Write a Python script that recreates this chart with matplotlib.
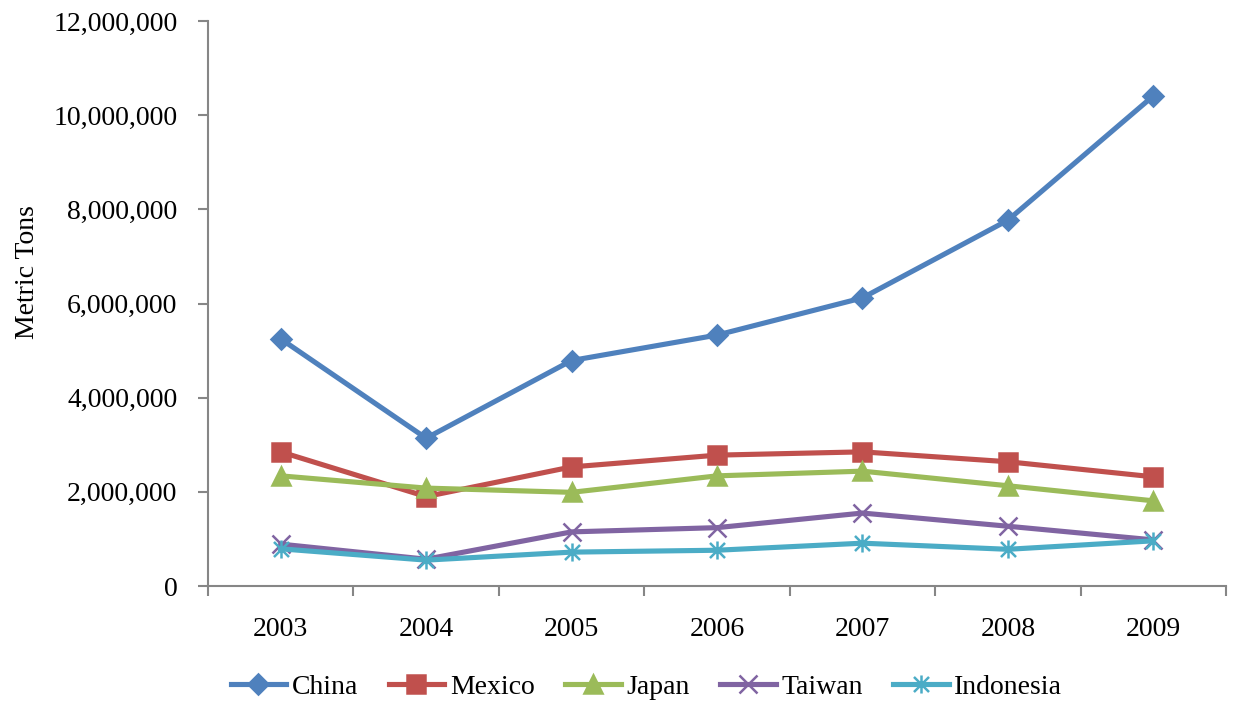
import numpy as np
import matplotlib.pyplot as plt
from matplotlib.path import Path
from matplotlib.ticker import FuncFormatter

years = ['2003', '2004', '2005', '2006', '2007', '2008', '2009']
china = [5250000, 3140000, 4790000, 5330000, 6120000, 7770000, 10410000]
mexico = [2850000, 1900000, 2530000, 2780000, 2850000, 2640000, 2320000]
japan = [2340000, 2080000, 1990000, 2340000, 2440000, 2130000, 1810000]
taiwan = [890000, 570000, 1150000, 1240000, 1550000, 1270000, 980000]
indonesia = [790000, 550000, 720000, 760000, 910000, 780000, 960000]

# asterisk like Excel's: an x with a vertical bar through it
star = Path([(-1, -1), (1, 1), (-1, 1), (1, -1), (0, -1.2), (0, 1.2)],
            [Path.MOVETO, Path.LINETO, Path.MOVETO, Path.LINETO, Path.MOVETO, Path.LINETO])

series = [
    ('China', china, '#4F81BD', 'D', 10),
    ('Mexico', mexico, '#C0504D', 's', 13),
    ('Japan', japan, '#9BBB59', '^', 13),
    ('Taiwan', taiwan, '#8064A2', 'x', 13),
    ('Indonesia', indonesia, '#4BACC6', star, 13),
]

plt.rcParams['font.family'] = ['Liberation Serif']

fig = plt.figure(figsize=(12.35, 7.03), dpi=100)
ax = fig.add_axes([0.1684, 0.1664, 0.8243, 0.8036])

x = np.arange(len(years))
for name, vals, color, marker, ms in series:
    ax.plot(x, vals, color=color, linewidth=3.7, marker=marker, markersize=ms,
            markeredgecolor=color, markerfacecolor=color, markeredgewidth=1.8,
            label=name, solid_joinstyle='round')

ax.set_xlim(-0.5, len(years) - 0.5)
ax.set_ylim(0, 12000000)
ax.set_yticks(np.arange(0, 12000001, 2000000))
ax.yaxis.set_major_formatter(FuncFormatter(lambda v, p: f'{int(v):,}'))

ax.set_xticks(x)
ax.set_xticklabels(years)
ax.set_xticks(np.arange(-0.5, len(years), 1), minor=True)
ax.tick_params(axis='x', which='major', length=0, pad=22, labelsize=20)
ax.tick_params(axis='x', which='minor', length=7, color='#868686', width=1.5)
ax.tick_params(axis='y', length=7, color='#868686', width=1.5, pad=15, labelsize=20)

for side in ['top', 'right']:
    ax.spines[side].set_visible(False)
for side in ['left', 'bottom']:
    ax.spines[side].set_color('#868686')
    ax.spines[side].set_linewidth(1.5)

ax.set_ylabel('Metric Tons', fontsize=20)
ax.yaxis.set_label_coords(-0.165, 0.556)

leg = fig.legend(loc='center', bbox_to_anchor=(0.5235, 0.023), ncol=5, frameon=False,
                 prop={'family': 'Liberation Serif', 'size': 20}, handlelength=2.0,
                 handletextpad=0.2, columnspacing=1.1)

fig.savefig('out.png', dpi=100)
